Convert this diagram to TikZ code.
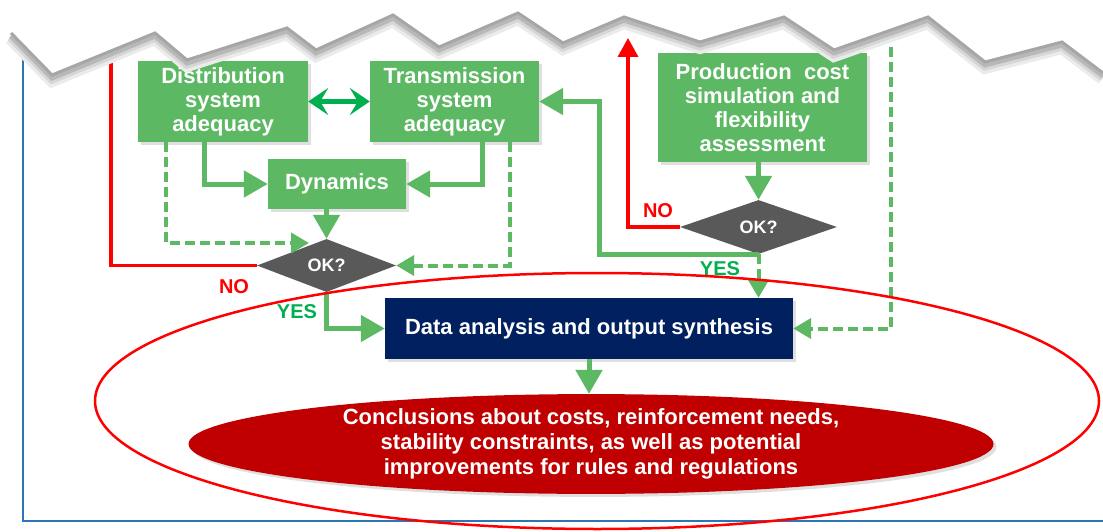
\documentclass[tikz,border=0pt]{standalone}
\usepackage{fontspec}
\setmainfont{Liberation Sans}
\usetikzlibrary{shapes.geometric,arrows.meta,shadows}
\definecolor{boxgreen}{RGB}{92,184,98}
\definecolor{darkgreen}{RGB}{0,176,80}
\definecolor{navyblue}{RGB}{0,32,96}
\definecolor{darkred}{RGB}{192,0,0}
\definecolor{okgray}{RGB}{89,89,89}
\definecolor{frameblue}{RGB}{46,117,182}
\def\tornedge{(11,33) -- (52,75) -- (155,33) -- (187,60) -- (287,28) -- (316,50) -- (393,15) -- (439,47) -- (518,13) -- (563,43) -- (624,17) -- (700,42) -- (784,17) -- (834,50) -- (928,17) -- (985,62) -- (1062,42) -- (1103,73)}
\begin{document}
\begin{tikzpicture}[x=1pt,y=-1pt,line join=miter,
box/.style={fill=boxgreen,text=white,font=\bfseries\fontsize{22}{24}\selectfont,align=center,inner sep=0pt,drop shadow={shadow xshift=3pt,shadow yshift=-3pt,opacity=0.25}},
okbox/.style={diamond,fill=okgray,text=white,font=\bfseries\fontsize{18}{20}\selectfont,inner sep=0pt},
flow/.style={draw=boxgreen,line width=5pt,-{Triangle[length=24pt,width=26pt]}},
dflow/.style={draw=boxgreen,line width=4pt,dash pattern=on 10pt off 5pt,-{Triangle[length=18pt,width=20pt]}},
noline/.style={draw=red,line width=3.5pt},
lbl/.style={font=\bfseries\fontsize{20}{22}\selectfont}]
\useasboundingbox (0,0) rectangle (1103,532);
\draw[frameblue,line width=1.5pt] (23,45) -- (23,521) -- (1103,521);

\node[box,minimum width=170pt,minimum height=81pt] (dist) at (223,101.5) {Distribution\\system\\adequacy};
\node[box,minimum width=169pt,minimum height=81pt] (trans) at (454.5,101.5) {Transmission\\system\\adequacy};
\node[box,minimum width=138pt,minimum height=50pt] (dyn) at (337,184) {Dynamics};
\node[okbox,minimum width=139pt,minimum height=53pt] (ok1) at (326.5,265.5) {OK?};
\node[box,minimum width=209pt,minimum height=109pt] (prod) at (762.5,107.5) {Production\ \ cost\\simulation and\\flexibility\\assessment};
\node[okbox,minimum width=157pt,minimum height=54pt] (ok2) at (758.5,227) {OK?};
\node[box,fill=navyblue,minimum width=408pt,minimum height=61pt] (data) at (589,328.5) {Data analysis and output synthesis};
\node[box,ellipse,fill=darkred,font=\bfseries\fontsize{22}{25}\selectfont,minimum width=805pt,minimum height=98pt] (concl) at (591,444) {Conclusions about costs, reinforcement needs,\\stability constraints, as well as potential\\improvements for rules and regulations};

\draw[darkgreen,line width=5pt,{Stealth[length=20pt,width=27pt,inset=8pt]}-{Stealth[length=20pt,width=27pt,inset=8pt]}] (dist) -- (trans);
\draw[flow] ([xshift=-19pt]dist.south) |- (dyn.west);
\draw[flow] ([xshift=27.5pt]trans.south) |- (dyn.east);
\draw[flow] (dyn.south -| ok1.north) -- (ok1.north);
\coordinate (dtip) at (309,243);
\draw[dflow] ([xshift=-57pt]dist.south) |- (dtip);
\draw[dflow] ([xshift=55.5pt]trans.south) |- (ok1.east);
\coordinate (rtop) at (111,50);
\draw[noline] (rtop) |- (ok1.west);
\node[lbl,text=red] (no1) at (234,287) {NO};
\draw[flow] (ok1.south) |- (data.west);
\node[lbl,text=darkgreen] (yes1) at (297,312) {YES};

\draw[flow] (prod.south -| ok2.north) -- (ok2.north);
\coordinate (rtip) at (628,38);
\draw[noline,-{Triangle[length=19pt,width=20pt]}] (ok2.west) -| (rtip);
\node[lbl,text=red] (no2) at (658,211) {NO};
\coordinate (back) at (599,256);
\draw[flow] (ok2.south) -- (ok2.south -| back) |- (trans.east);
\draw[dflow] (ok2.south) -- (ok2.south |- data.north);
\node[lbl,text=darkgreen] (yes2) at (720,269) {YES};
\coordinate (dtop) at (891,32);
\draw[dflow] (dtop) |- (data.east);
\draw[flow] (data.south) -- (data.south |- concl.north);

\draw[red,line width=2.5pt] (597,401) ellipse [x radius=502,y radius=128];

\draw[black!8,line width=14pt,yshift=-5pt] \tornedge;
\draw[black!16,line width=9pt,yshift=-4pt] \tornedge;
\draw[black!28,line width=5pt,yshift=-3pt] \tornedge;
\fill[white] (0,0) -- (0,33) -- \tornedge -- (1103,0) -- cycle;
\draw[black!35,line width=3pt] \tornedge;
\end{tikzpicture}
\end{document}
